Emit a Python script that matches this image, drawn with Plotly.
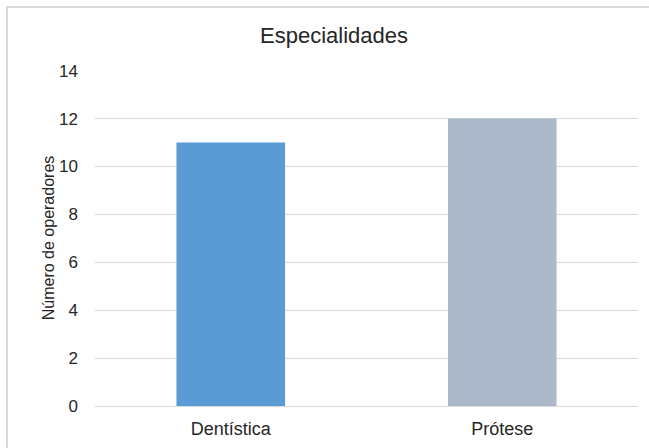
import plotly.graph_objects as go

# Number of operators per specialty
categories = ["Dentística", "Prótese"]
operators = [11, 12]
bar_colors = ["#5B9BD5", "#ADB9CA"]
y_ticks = [0, 2, 4, 6, 8, 10, 12, 14]

W, H = 649, 448
L, R, T, B = 95, 11, 70, 42
pw, ph = W - L - R, H - T - B

fig = go.Figure(
    go.Bar(
        x=categories,
        y=operators,
        marker=dict(color=bar_colors, line=dict(width=0)),
        hoverinfo="x+y",
    )
)

font_family = "Liberation Sans, Arial, sans-serif"

# Frame around the chart area (left and top edges)
def px_to_paper_x(px):
    return (px - L) / pw

def px_to_paper_y(py):
    return (H - B - py) / ph

frame = dict(color="#D9D9D9", width=2)
shapes = [
    dict(type="line", xref="paper", yref="paper",
         x0=px_to_paper_x(7), x1=px_to_paper_x(W + 2),
         y0=px_to_paper_y(7), y1=px_to_paper_y(7), line=frame),
    dict(type="line", xref="paper", yref="paper",
         x0=px_to_paper_x(7), x1=px_to_paper_x(7),
         y0=px_to_paper_y(6), y1=px_to_paper_y(H + 2), line=frame),
]

fig.update_layout(
    width=W,
    height=H,
    margin=dict(l=L, r=R, t=T, b=B, pad=0, autoexpand=False),
    paper_bgcolor="white",
    plot_bgcolor="white",
    bargap=0.6,
    showlegend=False,
    font=dict(family=font_family, color="#262626", size=17),
    title=dict(
        text="Especialidades",
        x=334 / W,
        xanchor="center",
        xref="container",
        y=1 - 35 / H,
        yanchor="middle",
        font=dict(family=font_family, size=22, color="#262626"),
    ),
    xaxis=dict(
        automargin=False,
        showgrid=False,
        showline=True,
        linecolor="#D9D9D9",
        linewidth=1,
        ticks="",
        tickfont=dict(size=18, color="#262626"),
        ticklabelstandoff=6,
    ),
    yaxis=dict(
        automargin=False,
        range=[0, 14.03],
        tickvals=y_ticks,
        showgrid=True,
        gridcolor="#D9D9D9",
        gridwidth=1,
        zeroline=False,
        showline=False,
        ticks="",
        tickfont=dict(size=17, color="#262626"),
        ticklabelstandoff=16,
        title=dict(
            text="Número de operadores",
            font=dict(size=16, color="#262626"),
            standoff=0,
        ),
    ),
    shapes=shapes,
)

fig.write_html("out.html")
